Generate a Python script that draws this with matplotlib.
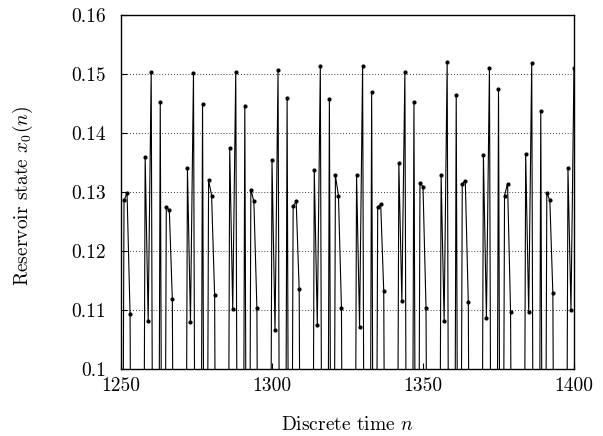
import numpy as np
import matplotlib
matplotlib.use("Agg")
import matplotlib.pyplot as plt

plt.rcParams["font.family"] = "serif"
plt.rcParams["font.serif"] = ["cmr10", "DejaVu Serif"]
plt.rcParams["mathtext.fontset"] = "cm"
plt.rcParams["axes.formatter.use_mathtext"] = True

# values below 0.1 are off the visible range; their level is a guess
L = 0.0

n_start, n_end = 1250, 1400
state = [
    L,
    0.1286, 0.1298, 0.1093, L, L, L, L, 0.1360, 0.1081, 0.1504, L, L, 0.1452, L,
    0.1275, 0.1269, 0.1118, L, L, L, L, 0.1340, 0.1079, 0.1502, L, L, 0.1450, L,
    0.1320, 0.1294, 0.1125, L, L, L, L, 0.1374, 0.1101, 0.1504, L, L, 0.1445, L,
    0.1304, 0.1284, 0.1103, L, L, L, L, 0.1354, 0.1066, 0.1506, L, L, 0.1459, L,
    0.1276, 0.1284, 0.1135, L, L, L, L, 0.1337, 0.1074, 0.1514, L, L, 0.1457, L,
    0.1328, 0.1294, 0.1103, L, L, L, L, 0.1328, 0.1072, 0.1514, L, L, 0.1469, L,
    0.1275, 0.1279, 0.1132, L, L, L, L, 0.1349, 0.1115, 0.1504, L, L, 0.1453, L,
    0.1315, 0.1309, 0.1103, L, L, L, L, 0.1328, 0.1081, 0.1521, L, L, 0.1464, L,
    0.1314, 0.1319, 0.1113, L, L, L, L, 0.1362, 0.1086, 0.1511, L, L, 0.1474, L,
    0.1294, 0.1314, 0.1096, L, L, L, L, 0.1364, 0.1096, 0.1519, L, L, 0.1438, L,
    0.1299, 0.1286, 0.1128, L, L, L, L, 0.1340, 0.1100, 0.1511,
]
n = np.arange(n_start, n_end + 1)

yticks = [0.10, 0.11, 0.12, 0.13, 0.14, 0.15, 0.16]
ytick_labels = ["0.1", "0.11", "0.12", "0.13", "0.14", "0.15", "0.16"]
xticks = [1250, 1300, 1350, 1400]

fig = plt.figure(figsize=(6.03, 4.36), dpi=100)
ax = fig.add_axes([121 / 603, 1 - 369 / 436, 453 / 603, 354 / 436])

ax.plot(n, state, color="black", linewidth=0.8, marker="o", markersize=2.0)

ax.set_xlim(n_start, n_end)
ax.set_ylim(0.1, 0.16)
ax.set_xticks(xticks)
ax.set_xticklabels([str(x) for x in xticks])
ax.set_yticks(yticks)
ax.set_yticklabels(ytick_labels)
ax.tick_params(direction="in", length=4, width=0.8, labelsize=14)
ax.tick_params(axis="x", pad=6)
ax.tick_params(axis="y", pad=11)

for y in yticks[1:-1]:
    ax.axhline(y, color="black", linestyle=(0, (1, 2.5)), linewidth=0.6, zorder=0)

for side in ax.spines.values():
    side.set_linewidth(1.0)

ax.set_xlabel("Discrete time $n$", fontsize=14)
ax.set_ylabel("Reservoir state $x_0(n)$", fontsize=14)
ax.xaxis.set_label_coords(0.5, -0.133)
ax.yaxis.set_label_coords(-0.19, 0.49)

fig.savefig("out.png", dpi=100)
